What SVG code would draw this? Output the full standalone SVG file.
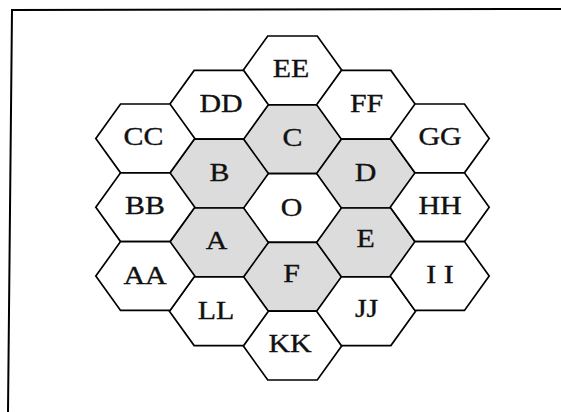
<svg xmlns="http://www.w3.org/2000/svg" xmlns:xlink="http://www.w3.org/1999/xlink" width="561" height="412" viewBox="0 0 561 412">
<style>
.h{stroke:#000;stroke-width:1.7;stroke-linejoin:miter}
.w{fill:#fff}
.g{fill:#dcdcdc}
.t{font-family:"Liberation Serif","Times New Roman",serif;font-size:26px;fill:#111;stroke:#111;stroke-width:0.35;text-anchor:middle}
.frame{fill:none;stroke:#000;stroke-width:2}
</style>
<defs>
<polygon id="hex" points="-49.5,0 -24.75,-34.4 24.75,-34.4 49.5,0 24.75,34.4 -24.75,34.4"/>
</defs>
<rect width="561" height="412" fill="#fff"/>
<path class="frame" d="M8,412 L12,10 L561,9"/>
<g id="EE"><use xlink:href="#hex" class="h w" x="292.5" y="70.4"/><text class="t" transform="translate(291,77) scale(1.15,1)">EE</text></g>
<g id="C"><use xlink:href="#hex" class="h g" x="292.5" y="139.2"/><text class="t" transform="translate(292.5,146) scale(1.15,1)">C</text></g>
<g id="O"><use xlink:href="#hex" class="h w" x="292.5" y="208"/><text class="t" transform="translate(291.5,215.5) scale(1.15,1)">O</text></g>
<g id="F"><use xlink:href="#hex" class="h g" x="292.5" y="276.8"/><text class="t" transform="translate(291.5,282) scale(1.15,1)">F</text></g>
<g id="KK"><use xlink:href="#hex" class="h w" x="292.5" y="345.6"/><text class="t" transform="translate(290,352) scale(1.15,1)">KK</text></g>
<g id="DD"><use xlink:href="#hex" class="h w" x="218.9" y="104.8"/><text class="t" transform="translate(221,111.5) scale(1.15,1)">DD</text></g>
<g id="B"><use xlink:href="#hex" class="h g" x="218.9" y="173.6"/><text class="t" transform="translate(219.5,180.5) scale(1.15,1)">B</text></g>
<g id="A"><use xlink:href="#hex" class="h g" x="218.9" y="242.4"/><text class="t" transform="translate(216.5,249) scale(1.15,1)">A</text></g>
<g id="LL"><use xlink:href="#hex" class="h w" x="218.9" y="311.2"/><text class="t" transform="translate(216,318.5) scale(1.15,1)">LL</text></g>
<g id="FF"><use xlink:href="#hex" class="h w" x="366.1" y="104.8"/><text class="t" transform="translate(366.5,111.5) scale(1.15,1)">FF</text></g>
<g id="D"><use xlink:href="#hex" class="h g" x="366.1" y="173.6"/><text class="t" transform="translate(365.5,180.5) scale(1.15,1)">D</text></g>
<g id="E"><use xlink:href="#hex" class="h g" x="366.1" y="242.4"/><text class="t" transform="translate(365.5,247) scale(1.15,1)">E</text></g>
<g id="JJ"><use xlink:href="#hex" class="h w" x="366.1" y="311.2"/><text class="t" transform="translate(366.5,317) scale(1.15,1)">JJ</text></g>
<g id="CC"><use xlink:href="#hex" class="h w" x="145.3" y="138.4"/><text class="t" transform="translate(143.5,145) scale(1.15,1)">CC</text></g>
<g id="BB"><use xlink:href="#hex" class="h w" x="145.3" y="207.2"/><text class="t" transform="translate(145,214) scale(1.15,1)">BB</text></g>
<g id="AA"><use xlink:href="#hex" class="h w" x="145.3" y="276"/><text class="t" transform="translate(145,283.5) scale(1.15,1)">AA</text></g>
<g id="GG"><use xlink:href="#hex" class="h w" x="439.7" y="138.4"/><text class="t" transform="translate(440,145) scale(1.15,1)">GG</text></g>
<g id="HH"><use xlink:href="#hex" class="h w" x="439.7" y="207.2"/><text class="t" transform="translate(440,213.5) scale(1.15,1)">HH</text></g>
<g id="II"><use xlink:href="#hex" class="h w" x="439.7" y="276"/><text class="t" transform="translate(440,282.5) scale(1.15,1)">I I</text></g>
<g id="connectors"/>
</svg>
